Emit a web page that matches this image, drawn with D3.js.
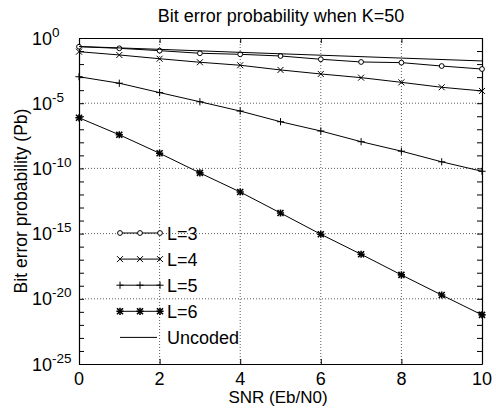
<!DOCTYPE html>
<html>
<head>
<meta charset="utf-8">
<script src="https://cdn.jsdelivr.net/npm/d3@7"></script>
<style>
  body { margin: 0; background: #fff; }
  svg text { font-family: "Liberation Sans", Arial, sans-serif; fill: #000; }
</style>
</head>
<body>
<div id="chart"></div>
<script>
// ---- data ----
var snr = [0, 1, 2, 3, 4, 5, 6, 7, 8, 9, 10];
var pbL3 = [0.214, 0.162, 0.107, 0.0676, 0.0562, 0.0417, 0.0234, 0.0145, 0.0129, 0.00708, 0.00417];
var pbL4 = [0.0891, 0.0501, 0.0257, 0.0138, 0.00813, 0.00355, 0.00174, 9.1e-4, 3.98e-4, 1.66e-4, 8.7e-5];
var pbL5 = [1.07e-3, 3.4e-4, 6.5e-5, 1.29e-5, 2.5e-6, 3.8e-7, 7.4e-8, 1.12e-8, 2.1e-9, 3.2e-10, 6.0e-11];
var pbL6 = [7.6e-7, 3.8e-8, 1.45e-9, 4.5e-11, 1.55e-12, 3.8e-14, 8.9e-16, 2.6e-17, 6.8e-19, 1.95e-20, 5.8e-22];
var uncodedSnr = [0, 2, 4, 6, 8, 10];
var pbUncoded = [0.224, 0.135, 0.0794, 0.0479, 0.0288, 0.0174];
var xTicks = [0, 2, 4, 6, 8, 10];
var yExponents = [0, -5, -10, -15, -20, -25];
var legendNames = ["L=3", "L=4", "L=5", "L=6", "Uncoded"];

// ---- canvas ----
var svgWidth = 496, svgHeight = 408;
var margin = { top: 38, right: 14, bottom: 44, left: 79 };
var width = svgWidth - margin.left - margin.right;
var height = svgHeight - margin.top - margin.bottom;

var svg = d3.select("#chart").append("svg")
  .attr("width", svgWidth)
  .attr("height", svgHeight);
var g = svg.append("g").attr("transform", `translate(${margin.left},${margin.top})`);

var x = d3.scaleLinear().domain([0, 10]).range([0, width]);
var y = d3.scaleLog().domain([1e-25, 1]).range([height, 0]);

var decades = d3.range(0, 26).map(k => Math.pow(10, -k));

// grid (dotted)
g.selectAll(".gx").data(xTicks.slice(1, -1)).enter().append("line")
  .attr("x1", d => x(d)).attr("x2", d => x(d))
  .attr("y1", 0).attr("y2", height)
  .attr("stroke", "#333").attr("stroke-width", 0.8).attr("stroke-dasharray", "1,2");
g.selectAll(".gy").data(yExponents.slice(1, -1)).enter().append("line")
  .attr("x1", 0).attr("x2", width)
  .attr("y1", d => y(Math.pow(10, d))).attr("y2", d => y(Math.pow(10, d)))
  .attr("stroke", "#333").attr("stroke-width", 0.8).attr("stroke-dasharray", "1,2");

// axes: ticks pointing inward on all four sides
function styleAxis(sel) {
  sel.selectAll("path").attr("stroke", "#000").attr("stroke-width", 1.2);
  sel.selectAll("line").attr("stroke", "#000");
  sel.selectAll("text").remove();
}
g.append("g").attr("transform", `translate(0,${height})`)
  .call(d3.axisBottom(x).tickValues(xTicks).tickSizeInner(-5).tickSizeOuter(0)).call(styleAxis);
g.append("g")
  .call(d3.axisTop(x).tickValues(xTicks).tickSizeInner(-5).tickSizeOuter(0)).call(styleAxis);
g.append("g")
  .call(d3.axisLeft(y).tickValues(decades).tickSizeInner(-5).tickSizeOuter(0)).call(styleAxis);
g.append("g").attr("transform", `translate(${width},0)`)
  .call(d3.axisRight(y).tickValues(decades).tickSizeInner(-5).tickSizeOuter(0)).call(styleAxis);

// tick labels
g.selectAll(".xl").data(xTicks).enter().append("text")
  .attr("x", d => x(d)).attr("y", height + 21)
  .attr("text-anchor", "middle").attr("font-size", 18)
  .text(d => d);
var yl = g.selectAll(".yl").data(yExponents).enter().append("text")
  .attr("x", -47).attr("y", d => y(Math.pow(10, d)) + 6.5)
  .attr("font-size", 18);
yl.append("tspan").text("10");
yl.append("tspan").attr("dy", -8).attr("font-size", 13.5).text(d => d === 0 ? "0" : "-" + Math.abs(d));

// titles
svg.append("text").attr("x", 281).attr("y", 22).attr("text-anchor", "middle")
  .attr("font-size", 18).text("Bit error probability when K=50");
svg.append("text").attr("x", 278).attr("y", 403).attr("text-anchor", "middle")
  .attr("font-size", 17).text("SNR (Eb/N0)");
svg.append("text").attr("transform", "translate(27,201) rotate(-90)").attr("text-anchor", "middle")
  .attr("font-size", 17.5).text("Bit error probability (Pb)");

// markers
function drawMarker(sel, kind, s) {
  if (kind === "o") {
    sel.append("circle").attr("r", s * 0.8).attr("fill", "#fff").attr("stroke", "#000").attr("stroke-width", 1);
  }
  if (kind === "x" || kind === "*") {
    sel.append("path").attr("d", `M${-s},${-s}L${s},${s}M${-s},${s}L${s},${-s}`).attr("stroke", "#000").attr("stroke-width", kind === "*" ? 1.6 : 1);
  }
  if (kind === "+" || kind === "*") {
    sel.append("path").attr("d", `M${-s * 1.2},0L${s * 1.2},0M0,${-s * 1.2}L0,${s * 1.2}`).attr("stroke", "#000").attr("stroke-width", kind === "*" ? 1.6 : 1);
  }
}

var series = [
  { xs: snr, ys: pbL3, m: "o" },
  { xs: snr, ys: pbL4, m: "x" },
  { xs: snr, ys: pbL5, m: "+" },
  { xs: snr, ys: pbL6, m: "*" },
  { xs: uncodedSnr, ys: pbUncoded, m: null }
];
var line = d3.line().x(d => x(d[0])).y(d => y(d[1]));
series.forEach(s => {
  var pts = s.xs.map((v, i) => [v, s.ys[i]]);
  g.append("path").datum(pts).attr("d", line)
    .attr("fill", "none").attr("stroke", "#000").attr("stroke-width", 1);
  if (s.m) {
    g.selectAll(null).data(pts).enter().append("g")
      .attr("transform", d => `translate(${x(d[0])},${y(d[1])})`)
      .each(function () { drawMarker(d3.select(this), s.m, 3); });
  }
});

// legend (no box)
var leg = svg.append("g");
legendNames.forEach((name, i) => {
  var ly = 233 + i * 26.1;
  var lx0 = 120, lx1 = i === 4 ? 157 : 160;
  leg.append("line").attr("x1", lx0).attr("x2", lx1).attr("y1", ly).attr("y2", ly)
    .attr("stroke", "#000").attr("stroke-width", 1);
  if (series[i].m) {
    [120, 140, 160].forEach(mx => {
      var mg = leg.append("g").attr("transform", `translate(${mx},${ly})`);
      drawMarker(mg, series[i].m, 3);
    });
  }
  leg.append("text").attr("x", 167).attr("y", ly + 6.5).attr("font-size", 18).text(name);
});
</script>
</body>
</html>
